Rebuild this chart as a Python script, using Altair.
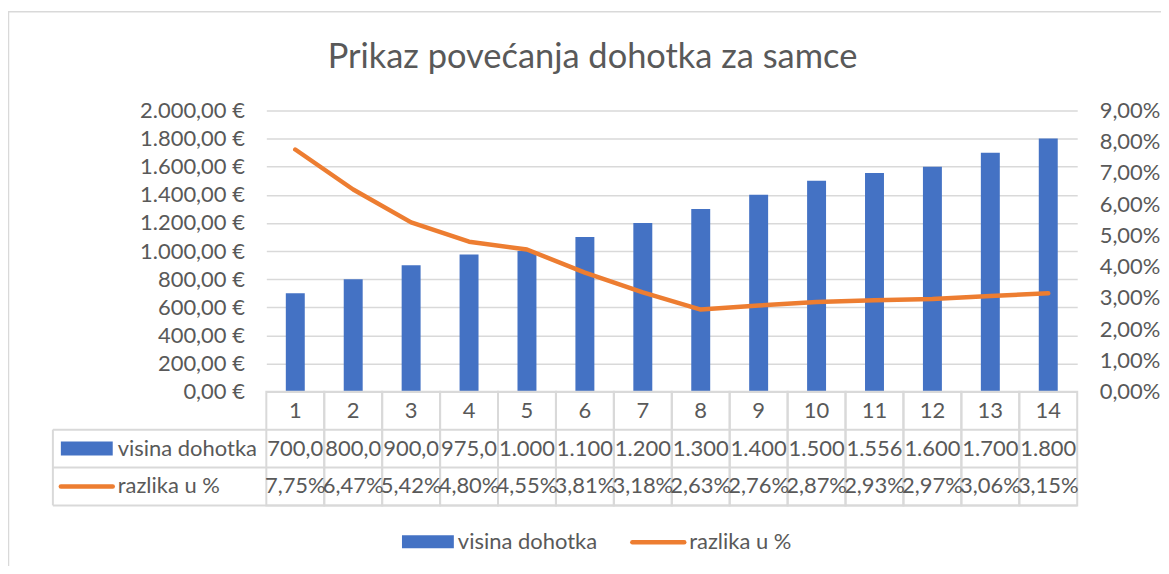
import altair as alt
import pandas as pd

# ---- data ----
categories = [str(i) for i in range(1, 15)]
income = [700, 800, 900, 975, 1000, 1100, 1200, 1300, 1400, 1500, 1556, 1600, 1700, 1800]
pct_diff = [7.75, 6.47, 5.42, 4.80, 4.55, 3.81, 3.18, 2.63, 2.76, 2.87, 2.93, 2.97, 3.06, 3.15]
series_names = ["visina dohotka", "razlika u %"]
title_text = "Prikaz povećanja dohotka za samce"
left_ticks = list(range(0, 2001, 200))
right_ticks = list(range(0, 10))

BLUE = "#4472C4"
ORANGE = "#ED7D31"
GREY_TXT = "#595959"
GRID = "#D9D9D9"
FONT = "Lato"
FS = 22

W, H = 813, 282
ROW = 38


def hr_money(v):
    s = f"{v:,.2f}".replace(",", "X").replace(".", ",").replace("X", ".")
    return (s + " €")[:5]


def hr_pct(v):
    return f"{v:.2f}".replace(".", ",") + "%"


df = pd.DataFrame({
    "cat": categories,
    "income": income,
    "pct": pct_diff,
    "inc_lbl": [hr_money(v) for v in income],
    "pct_lbl": [hr_pct(v) for v in pct_diff],
})
one = pd.DataFrame({"k": [0]})

xenc = alt.X("cat:N", sort=categories,
             scale=alt.Scale(paddingInner=0, paddingOuter=0), axis=None)

left_label = ("(datum.value >= 1000 ? floor(datum.value/1000) + '.' + "
              "format(datum.value % 1000, '03d') : format(datum.value, 'd')) + ',00 €'")
right_label = "replace(format(datum.value, '.2f'), '.', ',') + '%'"

bars = alt.Chart(df).mark_bar(size=19, color=BLUE).encode(
    x=xenc,
    y=alt.Y("income:Q", scale=alt.Scale(domain=[0, 2000], nice=False),
            axis=alt.Axis(values=left_ticks, labelExpr=left_label, grid=True,
                          title=None, orient="left")),
)

line = alt.Chart(df).mark_line(color=ORANGE, strokeWidth=4.5,
                               strokeCap="round", strokeJoin="round").encode(
    x=xenc,
    y=alt.Y("pct:Q", scale=alt.Scale(domain=[0, 9], nice=False),
            axis=alt.Axis(values=right_ticks, labelExpr=right_label, grid=False,
                          title=None, orient="right")),
)

main = alt.layer(bars, line).resolve_scale(y="independent")

# ---- data table under the plot ----
cells = alt.Chart(df).mark_rect(fill="transparent", stroke=GRID, strokeWidth=2).encode(
    x=xenc, y=alt.value(H), y2=alt.value(H + 3 * ROW))
row_lines = alt.Chart(pd.DataFrame({"yy": [H + ROW, H + 2 * ROW, H + 3 * ROW]})).mark_rule(
    color=GRID, strokeWidth=2).encode(
    x=alt.value(-214), x2=alt.value(W), y=alt.Y("yy:Q", scale=None))
head_box = alt.Chart(one).mark_rule(color=GRID, strokeWidth=2).encode(
    x=alt.value(-214), y=alt.value(H + ROW), y2=alt.value(H + 3 * ROW))

cat_txt = alt.Chart(df).mark_text(font=FONT, fontSize=FS, color=GREY_TXT,
                                  baseline="middle").encode(
    x=xenc, y=alt.value(H + ROW / 2), text="cat:N")
inc_txt = alt.Chart(df).mark_text(font=FONT, fontSize=FS, color=GREY_TXT,
                                  baseline="middle").encode(
    x=xenc, y=alt.value(H + ROW * 1.5), text="inc_lbl:N")
pct_txt = alt.Chart(df).mark_text(font=FONT, fontSize=FS, color=GREY_TXT,
                                  baseline="middle").encode(
    x=xenc, y=alt.value(H + ROW * 2.5), text="pct_lbl:N")

tbl_key1 = alt.Chart(one).mark_rect(color=BLUE).encode(
    x=alt.value(-206), x2=alt.value(-154), y=alt.value(H + 50), y2=alt.value(H + 64))
tbl_key2 = alt.Chart(one).mark_rule(color=ORANGE, strokeWidth=4.5, strokeCap="round").encode(
    x=alt.value(-206), x2=alt.value(-154), y=alt.value(H + 95))
tbl_names = alt.Chart(pd.DataFrame({"name": series_names, "yy": [H + 57, H + 95]})).mark_text(
    font=FONT, fontSize=FS, color=GREY_TXT, align="left", baseline="middle").encode(
    x=alt.value(-149), y=alt.Y("yy:Q", scale=None), text="name:N")

# ---- bottom legend ----
leg_key1 = alt.Chart(one).mark_rect(color=BLUE).encode(
    x=alt.value(136), x2=alt.value(188), y=alt.value(H + 144), y2=alt.value(H + 157))
leg_key2 = alt.Chart(one).mark_rule(color=ORANGE, strokeWidth=4.5, strokeCap="round").encode(
    x=alt.value(367), x2=alt.value(419), y=alt.value(H + 151))
leg_names = alt.Chart(pd.DataFrame({"name": series_names, "xx": [192, 424]})).mark_text(
    font=FONT, fontSize=FS, color=GREY_TXT, align="left", baseline="middle").encode(
    x=alt.X("xx:Q", scale=None), y=alt.value(H + 151), text="name:N")

# ---- title and chart-area border ----
title = alt.Chart(pd.DataFrame({"t": [title_text]})).mark_text(
    font=FONT, fontSize=34.5, color=GREY_TXT, align="center", baseline="middle").encode(
    x=alt.value(327), y=alt.value(-53), text="t:N")
border_top = alt.Chart(one).mark_rule(color=GRID, strokeWidth=1.5).encode(
    x=alt.value(-259), x2=alt.value(W + 120), y=alt.value(-99))
border_left = alt.Chart(one).mark_rule(color=GRID, strokeWidth=1.5).encode(
    x=alt.value(-258.5), y=alt.value(-99), y2=alt.value(H + 200))

chart = alt.layer(
    main, cells, row_lines, head_box, cat_txt, inc_txt, pct_txt,
    tbl_key1, tbl_key2, tbl_names, leg_key1, leg_key2, leg_names,
    title, border_top, border_left,
).resolve_scale(y="independent", x="shared").properties(
    width=W, height=H,
    autosize=alt.AutoSizeParams(type="none"),
    padding={"left": 259, "top": 102, "right": 84, "bottom": 174},
).configure_view(stroke=None).configure_axis(
    domain=False, ticks=False, labelFont=FONT, labelFontSize=FS,
    labelColor=GREY_TXT, gridColor=GRID, gridWidth=1.5, labelPadding=22,
)

chart.save("out.html", embed_options={"renderer": "svg", "actions": False})
